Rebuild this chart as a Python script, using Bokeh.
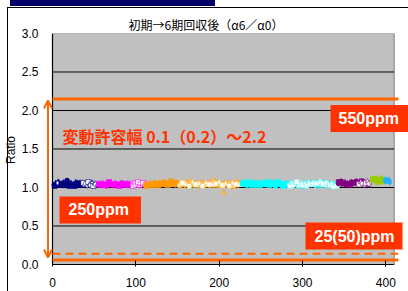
from bokeh.plotting import figure
from bokeh.models import Range1d, FixedTicker, Label, Arrow, OpenHead, NumeralTickFormatter, ColumnDataSource
from bokeh.embed import file_html
from bokeh.resources import INLINE

# ---------------- data ----------------
title_text = "初期→6期回収後（α6／α0）"
x_ticks = [0, 100, 200, 300, 400]
y_ticks = [0.0, 0.5, 1.0, 1.5, 2.0, 2.5, 3.0]
plot_x_min, plot_x_max = 0, 410
plot_y_min, plot_y_max = 0.0, 3.0

upper_limit = 2.15        # 550ppm
lower_limit_dash = 0.14   # 25(50)ppm
lower_limit = 0.06
line_end_x = 415
arrow_x = -5.4
arrow_top = 2.13
arrow_bottom = 0.09

navy_x = [1, 2.5, 4, 5.5, 7, 8.5, 10, 11.5, 13, 14.5, 16, 17.5, 19, 20.5, 22, 23.5, 25, 26.5, 28, 29.5, 31, 32.5, 34, 35.5, 39, 45, 51]
navy_y = [1.04, 1.02, 1.06, 1.03, 1.08, 1.05, 1.02, 1.04, 1.07, 1.03, 1.05, 1.09, 1.04, 1.02, 1.06, 1.03, 1.05, 1.02, 1.07, 1.04, 1.03, 1.06, 1.02, 1.05, 1.04, 1.06, 1.03]
navy_w_x = [6, 37, 38.5, 40, 41.5, 43, 44.5, 46, 47.5, 49, 50.5, 52, 53.5]
navy_w_y = [1.06, 1.06, 1.03, 1.05, 1.02, 1.07, 1.04, 1.03, 1.06, 1.02, 1.05, 1.04, 1.03]

mag_x = [54.5, 56, 57.5, 59, 60.5, 62, 63.5, 65, 66.5, 68, 69.5, 71, 72.5, 74, 75.5, 77, 78.5, 80, 81.5, 83, 84.5, 86, 87.5, 89, 90.5, 92, 93.5, 97, 103, 109]
mag_y = [1.03, 1.05, 1.02, 1.04, 1.06, 1.03, 1.05, 1.02, 1.04, 1.07, 1.03, 1.05, 1.02, 1.04, 1.06, 1.03, 1.05, 1.02, 1.04, 1.06, 1.03, 1.05, 1.02, 1.04, 1.06, 1.03, 1.05, 1.04, 1.03, 1.05]
mag_w_x = [95, 96.5, 98, 99.5, 101, 102.5, 104, 105.5, 107, 108.5, 110]
mag_w_y = [1.05, 1.02, 1.06, 1.03, 1.04, 1.07, 1.02, 1.05, 1.03, 1.06, 1.04]

org_x = [111, 112.5, 114, 115.5, 117, 118.5, 120, 121.5, 123, 124.5, 126, 127.5, 129, 130.5, 132, 133.5, 135, 136.5, 138, 139.5, 141, 142.5, 144, 145.5, 147, 148.5, 150]
org_y = [1.04, 1.02, 1.05, 1.03, 1.06, 1.04, 1.02, 1.05, 1.07, 1.03, 1.04, 1.06, 1.02, 1.05, 1.03, 1.07, 1.04, 1.05, 1.02, 1.06, 1.03, 1.08, 1.04, 1.05, 1.03, 1.06, 1.04]

lor_x = [151, 153, 155, 157, 159, 161, 163, 165, 167, 169, 171, 173, 175, 177, 179, 181, 183, 185, 187, 189, 191, 193, 195, 197, 199, 201, 203, 205, 207, 209, 211, 213, 215, 217, 219, 221, 223, 225, 205.5]
lor_y = [1.05, 1.03, 1.07, 1.04, 1.02, 1.06, 1.04, 1.08, 1.03, 1.05, 1.02, 1.06, 1.04, 1.03, 1.07, 1.05, 1.02, 1.04, 1.06, 1.03, 1.05, 1.08, 1.02, 1.04, 1.06, 1.03, 1.05, 1.02, 1.07, 1.04, 1.03, 1.06, 1.04, 1.02, 1.05, 1.07, 1.03, 1.05, 0.93]
lor_w_x = [152, 156, 160, 164, 168, 172, 176, 180, 184, 188, 192, 196, 200, 204, 208, 212, 216, 220, 224]
lor_w_y = [1.03, 1.06, 1.04, 1.02, 1.07, 1.04, 1.05, 1.02, 1.06, 1.04, 1.03, 1.05, 1.07, 1.03, 1.05, 1.02, 1.06, 1.04, 1.03]

cyan_x = [227, 228.5, 230, 231.5, 233, 234.5, 236, 237.5, 239, 240.5, 242, 243.5, 245, 246.5, 248, 249.5, 251, 252.5, 254, 255.5, 257, 258.5, 260, 261.5, 263, 264.5, 266, 267.5, 269, 270.5, 272, 273.5, 275, 276.5, 278, 279.5, 281,
          284, 287, 290, 293, 296, 299, 302, 305, 308, 311, 314, 317, 320, 323, 326, 329, 332, 335, 338, 341]
cyan_y = [1.04, 1.06, 1.03, 1.05, 1.02, 1.07, 1.04, 1.03, 1.05, 1.06, 1.02, 1.04, 1.07, 1.03, 1.05, 1.04, 1.02, 1.06, 1.03, 1.05, 1.04, 1.07, 1.02, 1.05, 1.03, 1.06, 1.04, 1.02, 1.05, 1.07, 1.03, 1.04, 1.06, 1.02, 1.05, 1.03, 1.06,
          1.05, 1.03, 1.04, 1.06, 1.03, 1.05, 1.02, 1.04, 1.06, 1.03, 1.05, 1.07, 1.03, 1.04, 1.06, 1.02, 1.05, 1.03, 1.04, 1.06]
cyan_w_x = [283, 285, 287, 289, 291, 293, 295, 297, 299, 301, 303, 305, 307, 309, 311, 313, 315, 317, 319, 321, 323, 325, 327, 329, 331, 333, 335, 337, 339, 341]
cyan_w_y = [1.04, 1.02, 1.06, 1.03, 1.05, 1.07, 1.02, 1.04, 1.06, 1.03, 1.05, 1.02, 1.07, 1.04, 1.03, 1.06, 1.02, 1.05, 1.04, 1.07, 1.03, 1.05, 1.02, 1.06, 1.04, 1.03, 1.05, 1.01, 1.04, 1.02]

pur_x = [342, 343.5, 345, 346.5, 348, 349.5, 351, 352.5, 354, 355.5, 357, 358.5, 360, 361.5, 363, 364.5, 367, 371, 375, 379]
pur_y = [1.05, 1.07, 1.04, 1.08, 1.06, 1.05, 1.07, 1.04, 1.06, 1.03, 1.05, 1.07, 1.04, 1.06, 1.05, 1.08, 1.05, 1.08, 1.06, 1.04]
pur_w_x = [366, 368, 370, 372, 374, 376, 378, 380, 382]
pur_w_y = [1.06, 1.04, 1.07, 1.05, 1.03, 1.06, 1.08, 1.05, 1.07]

grn_x = [383, 384.5, 386, 387.5, 389, 390.5, 392, 393.5, 395, 396.5]
grn_y = [1.09, 1.11, 1.08, 1.12, 1.10, 1.07, 1.11, 1.09, 1.13, 1.08]

blu_x = [399, 400.5, 402, 403.5, 405]
blu_y = [1.08, 1.10, 1.07, 1.09, 1.06]

# ---------------- styles ----------------
ORANGE = "#FF6600"
RED = "#FF3300"
MARKERS = ["diamond", "square", "triangle", "circle"]

p = figure(width=408, height=291, output_backend="svg", toolbar_location=None,
           x_range=Range1d(-14.4, 427.2), y_range=Range1d(-0.026, 3.0),
           min_border_left=40, min_border_right=0, min_border_top=33, min_border_bottom=25)
p.styles = {"background": "linear-gradient(#000066,#000066) 10px 0px / 205px 6px no-repeat, "
                          "linear-gradient(#000000,#000000) 7px 7px / 1px 300px no-repeat, "
                          "linear-gradient(#000000,#000000) 7px 7px / 420px 1px no-repeat, white"}
p.background_fill_color = None
p.border_fill_color = None
p.outline_line_color = None
p.grid.visible = False

p.title.text = title_text
p.title.align = "left"
p.title.offset = 88
p.title.text_font = "Noto Sans CJK JP"
p.title.text_font_size = "12px"
p.title.text_font_style = "normal"
p.title.text_color = "black"
p.title.standoff = 1

p.xaxis.ticker = FixedTicker(ticks=x_ticks)
p.yaxis.ticker = FixedTicker(ticks=y_ticks)
p.yaxis.formatter = NumeralTickFormatter(format="0.0")
for ax in (p.xaxis[0], p.yaxis[0]):
    ax.axis_line_color = None
    ax.minor_tick_in = 0
    ax.minor_tick_out = 0
    ax.major_tick_line_color = "black"
    ax.major_label_text_font = "Liberation Sans"
    ax.major_label_text_font_size = "12px"
    ax.major_label_text_color = "black"
p.xaxis.major_tick_in = 6
p.xaxis.major_tick_out = 0
p.yaxis.major_tick_in = 0
p.yaxis.major_tick_out = 0
p.yaxis.major_tick_line_color = None
p.xaxis.major_label_standoff = 11
p.yaxis.major_label_standoff = 2
p.yaxis.axis_label = "Ratio"
p.yaxis.axis_label_text_font = "Liberation Sans"
p.yaxis.axis_label_text_font_style = "normal"
p.yaxis.axis_label_text_font_size = "12px"
p.yaxis.axis_label_text_color = "black"
p.yaxis.axis_label_standoff = 1

# plot area, grid lines and axis lines
p.quad(left=plot_x_min, right=plot_x_max, bottom=plot_y_min, top=plot_y_max,
       fill_color="#C0C0C0", line_color="#808080", line_width=1)
inner = [t for t in y_ticks if plot_y_min < t < plot_y_max]
p.segment(x0=[plot_x_min] * len(inner), y0=inner, x1=[plot_x_max] * len(inner), y1=inner,
          line_color="black", line_width=1)
p.segment(x0=[plot_x_min, plot_x_min], y0=[plot_y_min, plot_y_min],
          x1=[plot_x_min, plot_x_max], y1=[plot_y_max, plot_y_min],
          line_color="black", line_width=1.2)


def add_series(xs, ys, fill, line, size=5):
    assert len(xs) == len(ys)
    marks = [MARKERS[i % len(MARKERS)] for i in range(len(xs))]
    src = ColumnDataSource(dict(x=xs, y=ys, m=marks))
    p.scatter("x", "y", source=src, marker="m", size=size,
              fill_color=fill, line_color=line, line_width=0.6)


add_series(navy_x, navy_y, "#000080", "#000080")
add_series(navy_w_x, navy_w_y, "white", "#000080")
add_series(mag_x, mag_y, "#FF00FF", "#FF00FF")
add_series(mag_w_x, mag_w_y, "white", "#FF00FF")
add_series(org_x, org_y, "#FF9900", "#FF9900")
add_series(lor_x, lor_y, "#FFC266", "#FF9900")
add_series(lor_w_x, lor_w_y, "white", "#FFCC66")
add_series(cyan_x, cyan_y, "#00FFFF", "#00FFFF")
add_series(cyan_w_x, cyan_w_y, "white", "#66FFFF")
add_series(pur_x, pur_y, "#800080", "#800080")
add_series(pur_w_x, pur_w_y, "white", "#800080")
add_series(grn_x, grn_y, "#99CC00", "#99CC00")
add_series(blu_x, blu_y, "#1EB4FF", "#1EB4FF")

# limit lines
p.segment(x0=[plot_x_min], y0=[upper_limit], x1=[line_end_x], y1=[upper_limit], line_color=ORANGE, line_width=3)
p.segment(x0=[plot_x_min], y0=[lower_limit_dash], x1=[line_end_x], y1=[lower_limit_dash],
          line_color=ORANGE, line_width=2, line_dash="8 5")
p.segment(x0=[plot_x_min], y0=[lower_limit], x1=[line_end_x], y1=[lower_limit], line_color=ORANGE, line_width=3)

# double headed arrow left of the plot area
p.add_layout(Arrow(x_start=arrow_x, x_end=arrow_x, y_start=arrow_bottom, y_end=arrow_top,
                   start=OpenHead(size=8, line_color=ORANGE, line_width=2),
                   end=OpenHead(size=8, line_color=ORANGE, line_width=2),
                   line_color=ORANGE, line_width=2))

p.add_layout(Label(x=12, y=1.675, text="変動許容幅 0.1（0.2）～2.2", text_align="left", text_baseline="middle",
                   text_font="Noto Sans CJK JP", text_font_size="16px", text_font_style="bold",
                   text_color=RED))


def box_label(x, y, text, pad):
    p.add_layout(Label(x=x, y=y, text=text, text_align="left", text_baseline="middle",
                       text_font="Liberation Sans", text_font_size="16px", text_font_style="bold",
                       text_color="white", background_fill_color=RED, padding=pad))


box_label(333.6, 1.896, "550ppm", dict(left=8, right=16, top=5, bottom=5))
box_label(8.4, 0.708, "250ppm", dict(left=9, right=12, top=5, bottom=5))
box_label(303.6, 0.370, "25(50)ppm", dict(left=9, right=8, top=5, bottom=5))

open("out.html", "w").write(file_html(p, INLINE))
